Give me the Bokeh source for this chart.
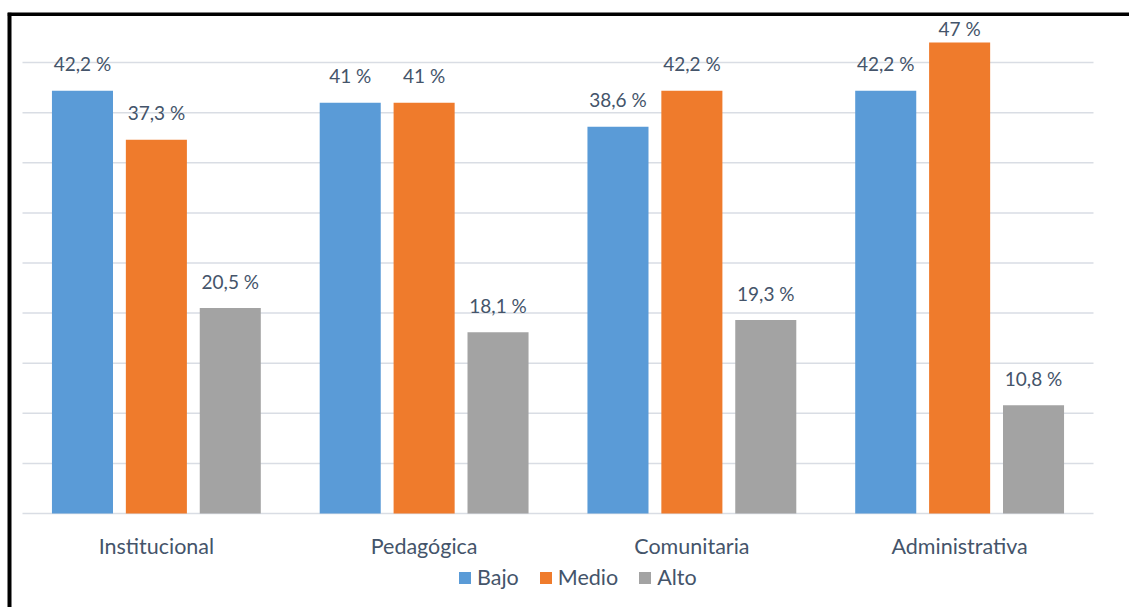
from bokeh.plotting import figure
from bokeh.models import ColumnDataSource, Range1d, Legend, LegendItem, Span
from bokeh.transform import dodge
from bokeh.embed import file_html
from bokeh.resources import INLINE
from bokeh.core.properties import value

categories = ["Institucional", "Pedagógica", "Comunitaria", "Administrativa"]
bajo = [42.2, 41, 38.6, 42.2]
medio = [37.3, 41, 42.2, 47]
alto = [20.5, 18.1, 19.3, 10.8]
series_names = ["Bajo", "Medio", "Alto"]
grid_values = [0, 5, 10, 15, 20, 25, 30, 35, 40, 45]
colors = ["#5a9bd7", "#ef7b2c", "#a3a3a3"]

FONT = "Lato"
TXT = "#44546a"
GRID = "#d9dde4"

# frame spans from the chart border (left/top) to the window edges
PX_PER_CAT = 267.75
PX_PER_PCT = 10.02
x_start = -0.5 - 15 / PX_PER_CAT
x_end = len(categories) - 0.5 + 36 / PX_PER_CAT
y_end = 501 / PX_PER_PCT
y_start = -94 / PX_PER_PCT

LBL_GAP = 27 / PX_PER_PCT          # label centre above bar top
LBL_MAX = (513 - 28) / PX_PER_PCT  # labels kept inside the chart area

def fmt(v):
    return f"{v:g}".replace(".", ",") + " %"

idx = list(range(len(categories)))
data = dict(idx=idx, cat=categories, bajo=bajo, medio=medio, alto=alto)
for key, vals in (("bajo", bajo), ("medio", medio), ("alto", alto)):
    data[key + "_lbl"] = [fmt(v) for v in vals]
    data[key + "_ly"] = [min(v + LBL_GAP, LBL_MAX) for v in vals]
src = ColumnDataSource(data)

p = figure(width=1129, height=607, x_range=Range1d(x_start, x_end),
           y_range=Range1d(y_start, y_end), output_backend="svg", toolbar_location=None,
           min_border_left=7, min_border_right=0, min_border_top=12, min_border_bottom=0)
p.outline_line_color = None
p.background_fill_color = "white"
p.border_fill_color = "white"
p.xaxis.visible = False
p.yaxis.visible = False
p.grid.visible = False

# gridlines over the category span
p.segment(x0=-0.5, x1=len(categories) - 0.5, y0=grid_values, y1=grid_values,
          line_color=GRID, line_width=1.5)

width = 0.228
offs = [-0.276, 0.0, 0.276]
keys = ["bajo", "medio", "alto"]
items = []
for k, off, c, name in zip(keys, offs, colors, series_names):
    r = p.vbar(x=dodge("idx", off), top=k, bottom=0, width=width, source=src,
               fill_color=c, line_color=None)
    items.append(LegendItem(label=name, renderers=[r]))
    p.text(x=dodge("idx", off), y=k + "_ly", text=k + "_lbl", source=src,
           text_align="center", text_baseline="middle",
           text_font=value(FONT), text_font_size="19px", text_color=TXT)

# category labels under the baseline
p.text(x="idx", y=0, text="cat", source=src, text_align="center", text_baseline="middle",
       y_offset=32, text_font=value(FONT), text_font_size="21.5px", text_color=TXT)

legend = Legend(items=items, orientation="horizontal", location=(450, 17))
legend.label_text_font = FONT
legend.label_text_font_size = "21.5px"
legend.label_text_color = TXT
legend.glyph_width = 15
legend.glyph_height = 15
legend.spacing = 19
legend.label_standoff = 5
legend.padding = 0
legend.margin = 0
legend.border_line_color = None
legend.background_fill_alpha = 0
p.add_layout(legend)

# chart border (left and top edges)
p.add_layout(Span(location=x_start, dimension="height", line_color="black", line_width=8))
p.add_layout(Span(location=y_end, dimension="width", line_color="black", line_width=7))

open("out.html", "w").write(file_html(p, INLINE))
